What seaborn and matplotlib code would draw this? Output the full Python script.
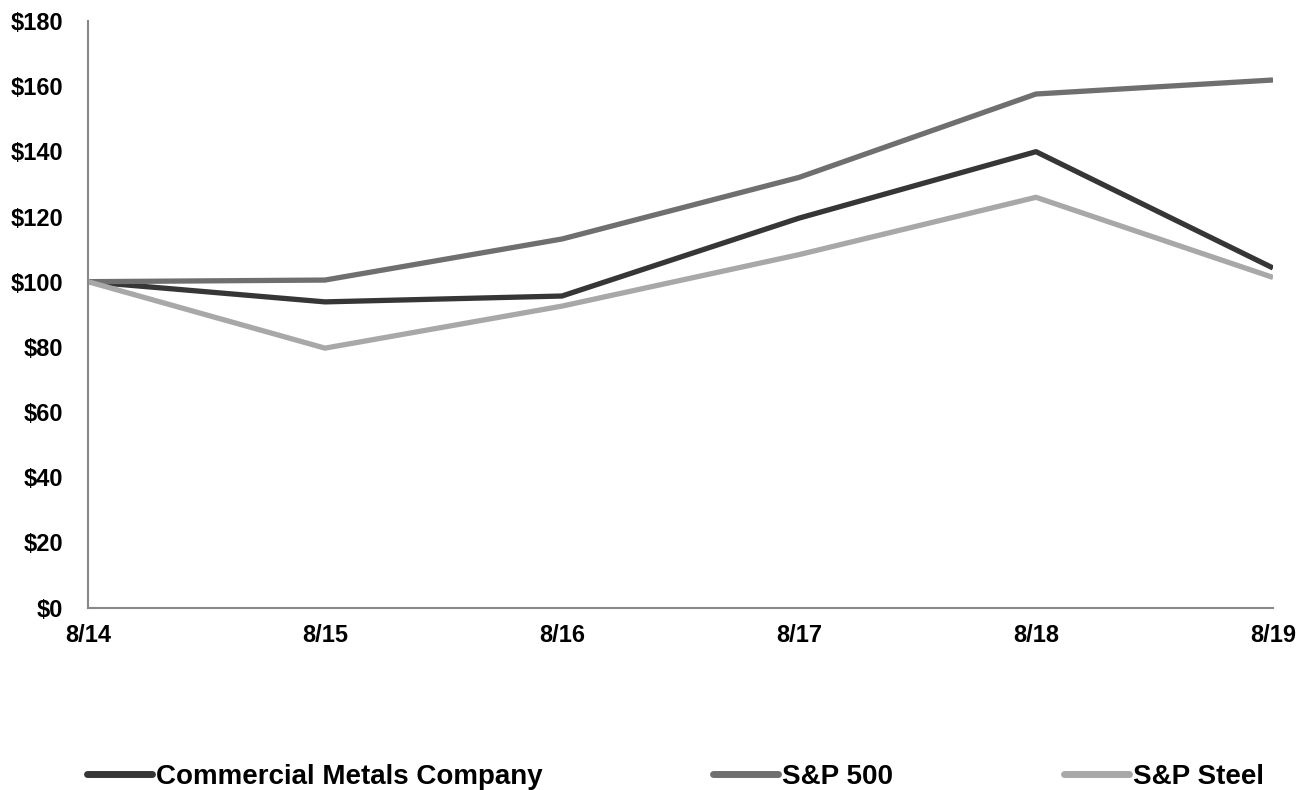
import pandas as pd
import matplotlib.pyplot as plt
import seaborn as sns
from matplotlib.ticker import FuncFormatter

# data
years = ["8/14", "8/15", "8/16", "8/17", "8/18", "8/19"]
cmc = [100.0, 93.8, 95.6, 119.5, 139.9, 104.2]
sp500 = [100.0, 100.5, 113.1, 132.0, 157.6, 161.9]
sp_steel = [100.0, 79.6, 92.5, 108.3, 125.9, 101.3]

series_names = ["Commercial Metals Company", "S&P 500", "S&P Steel"]
colors = ["#363636", "#6f6f6f", "#a8a8a8"]

df = pd.DataFrame({
    "year": years * 3,
    "pos": list(range(len(years))) * 3,
    "value": cmc + sp500 + sp_steel,
    "series": [n for n in series_names for _ in years],
})

sns.set_style("white")
plt.rcParams["font.family"] = ["Liberation Sans", "DejaVu Sans"]
plt.rcParams["font.weight"] = "bold"

fig = plt.figure(figsize=(13.09, 7.9), dpi=100)
ax = fig.add_axes([0.0672, 0.231, 0.9053, 0.7424])

sns.lineplot(data=df, x="pos", y="value", hue="series", palette=colors,
             hue_order=series_names, linewidth=3.8, ax=ax, legend=False,
             solid_capstyle="butt")

ax.set_xlim(0, len(years) - 1)
ax.set_ylim(0, 180)
ax.set_yticks(range(0, 181, 20))
ax.yaxis.set_major_formatter(FuncFormatter(lambda v, p: f"${v:.0f}"))
ax.set_xticks(range(len(years)))
ax.set_xticklabels(years)
ax.set_xlabel("")
ax.set_ylabel("")

for side in ["top", "right"]:
    ax.spines[side].set_visible(False)
for side in ["left", "bottom"]:
    ax.spines[side].set_color("#888888")
    ax.spines[side].set_linewidth(1.5)

ax.tick_params(axis="y", direction="out", length=6, width=1.2, color="#888888",
               pad=12, labelsize=17, labelcolor="black")
ax.tick_params(axis="x", direction="in", length=5, width=1.2, color="#888888",
               pad=12, labelsize=17, labelcolor="black")
for lbl in ax.get_xticklabels() + ax.get_yticklabels():
    lbl.set_fontweight("bold")

# legend entries placed along the bottom, one legend per series
lines = ax.get_lines()
legend_x = [87, 713, 1064]
for line, name, x in zip(lines, series_names, legend_x):
    leg = fig.legend([line], [name], loc="center left",
                     bbox_to_anchor=(x / 1309, 1 - 777 / 790),
                     frameon=False, handlelength=2.33, handletextpad=0.15,
                     borderaxespad=0, borderpad=0,
                     prop={"size": 20, "weight": "bold"})
    for t in leg.get_texts():
        t.set_color("black")
    for h in leg.legend_handles:
        h.set_linewidth(5)
        h.set_solid_capstyle("round")

fig.savefig("out.png", dpi=100)
